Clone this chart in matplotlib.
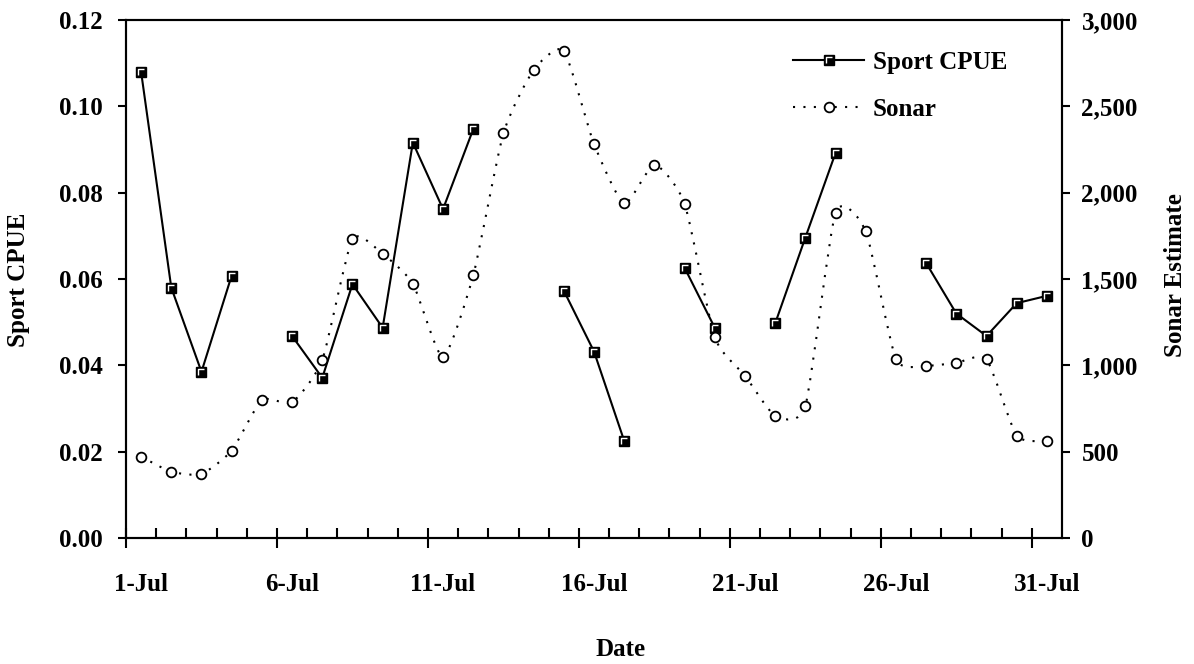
import numpy as np
import matplotlib
matplotlib.use("Agg")
import matplotlib.pyplot as plt
from matplotlib.path import Path
from matplotlib.patches import PathPatch
from matplotlib.lines import Line2D
from matplotlib.ticker import FuncFormatter

plt.rcParams["font.family"] = "Liberation Serif"
plt.rcParams["font.weight"] = "bold"
plt.rcParams["font.size"] = 18

nan = np.nan

# day of July, 1..31
days = list(range(1, 32))

cpue = [0.108, 0.058, 0.0385, 0.0608, nan, 0.0468, 0.0371, 0.0588, 0.0487,
        0.0916, 0.0762, 0.0947, nan, nan, 0.0573, 0.0432, 0.0225, nan,
        0.0626, 0.0487, nan, 0.0497, 0.0696, 0.0892, nan, nan, 0.0637,
        0.052, 0.0468, 0.0544, 0.0561]

sonar = [471, 384, 371, 506, 799, 786, 1031, 1730, 1645, 1473, 1048, 1521,
         2344, 2710, 2822, 2282, 1938, 2162, 1936, 1162, 940, 708, 766,
         1884, 1776, 1037, 998, 1014, 1035, 593, 562]

tick_days = [1, 6, 11, 16, 21, 26, 31]
tick_labels = ["1-Jul", "6-Jul", "11-Jul", "16-Jul", "21-Jul", "26-Jul", "31-Jul"]


def smooth_path(xs, ys, k=0.1):
    # smoothed line like excel: cubic bezier through each point
    verts = [(xs[0], ys[0])]
    codes = [Path.MOVETO]
    n = len(xs)
    for i in range(n - 1):
        i0 = max(i - 1, 0)
        i3 = min(i + 2, n - 1)
        c1 = (xs[i] + (xs[i + 1] - xs[i0]) * k, ys[i] + (ys[i + 1] - ys[i0]) * k)
        c2 = (xs[i + 1] - (xs[i3] - xs[i]) * k, ys[i + 1] - (ys[i3] - ys[i]) * k)
        verts += [c1, c2, (xs[i + 1], ys[i + 1])]
        codes += [Path.CURVE4] * 3
    return Path(verts, codes)


# white inner corner on the square markers
corner = Path([(-1, -1), (-1, 1), (1, 1)], [Path.MOVETO, Path.LINETO, Path.LINETO])

fig = plt.figure(figsize=(11.94, 6.64), dpi=100)
ax = fig.add_axes([126 / 1194, 1 - 538 / 664, (1062 - 126) / 1194, (538 - 20) / 664])
ax2 = ax.twinx()

x = np.array(days) - 0.5

ax.plot(x, cpue, color="black", lw=1.5, marker="s", ms=7.5, mfc="black",
        mec="black", mew=1, zorder=3)
ax.plot(x, cpue, linestyle="none", marker=corner, ms=4.5, mec="white",
        mfc="none", mew=1, zorder=4)

patch = PathPatch(smooth_path(x, sonar), fill=False, ec="black", lw=1.5,
                  linestyle=(0, (1, 4)), transform=ax2.transData)
ax2.add_patch(patch)
ax2.plot(x, sonar, linestyle="none", marker="o", ms=7, mfc="white",
         mec="black", mew=1.3, zorder=3)

ax.set_xlim(0, 31)
ax.set_ylim(0, 0.12)
ax2.set_ylim(0, 3000)

ax.set_yticks(np.arange(0, 0.121, 0.02))
ax.yaxis.set_major_formatter(FuncFormatter(lambda v, p: f"{v:.2f}"))
ax2.set_yticks(np.arange(0, 3001, 500))
ax2.yaxis.set_major_formatter(FuncFormatter(lambda v, p: f"{v:,.0f}"))

ax.set_xticks([d - 1 for d in tick_days])
ax.set_xticklabels([])
ax.set_xticks([d for d in range(1, 31) if d % 5 != 0], minor=True)
ax.tick_params(axis="x", which="major", direction="inout", length=14, width=1.5)
ax.tick_params(axis="x", which="minor", direction="in", length=7, width=1.5)
ax.tick_params(axis="y", direction="out", length=6, width=1.5, pad=11)
ax2.tick_params(axis="y", direction="out", length=6, width=1.5, pad=8)

secax = ax.secondary_xaxis("bottom")
secax.set_xticks([d - 0.5 for d in tick_days])
secax.set_xticklabels(tick_labels)
secax.tick_params(length=0, pad=25)
secax.spines["bottom"].set_visible(False)

for a in (ax, ax2):
    for s in a.spines.values():
        s.set_linewidth(1.5)

fig.text(19 / 1194, 1 - 280 / 664, "Sport CPUE", rotation=90, ha="center", va="center")
fig.text(1175 / 1194, 1 - 275 / 664, "Sonar Estimate", rotation=90, ha="center", va="center")
fig.text(621 / 1194, 1 - 650 / 664, "Date", ha="center", va="center")

h1 = (Line2D([], [], color="black", lw=1.5, marker="s", ms=7.5, mfc="black", mec="black", mew=1),
      Line2D([], [], linestyle="none", marker=corner, ms=4.5, mec="white", mfc="none", mew=1))
h2 = Line2D([], [], color="black", lw=1.5, linestyle=(0, (1, 4)), marker="o", ms=7,
            mfc="white", mec="black", mew=1.3)
ax2.legend([h1, h2], ["Sport CPUE", "Sonar"], loc="upper left",
           bbox_to_anchor=(793 / 1194, 1 - 51 / 664), bbox_transform=fig.transFigure,
           frameon=False, borderpad=0, borderaxespad=0, handlelength=2.85,
           handletextpad=0.35, labelspacing=0.95)

fig.savefig("out.png", dpi=100)
